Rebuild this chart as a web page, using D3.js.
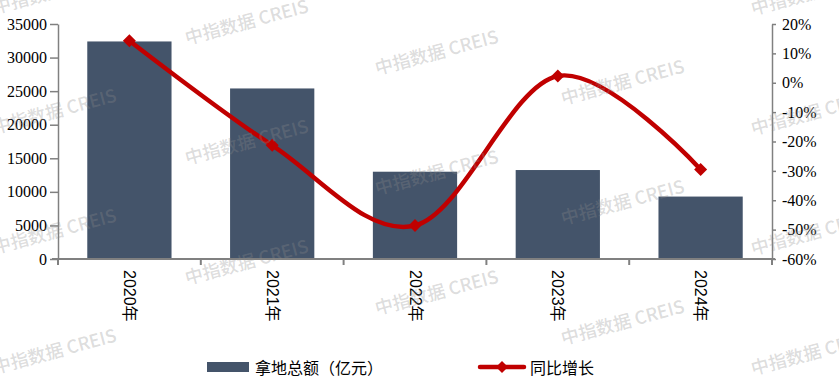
<!DOCTYPE html>
<html><head><meta charset="utf-8">
<script src="https://cdn.jsdelivr.net/npm/d3@7"></script>
<style>html,body{margin:0;padding:0;background:#fff;}svg{display:block;}
.num text{font-family:'Liberation Serif','Times New Roman',serif !important;font-size:16px;fill:#000;}</style>
</head><body>
<svg id="chart" width="839" height="383"></svg>
<script>
const categories = ["2020年","2021年","2022年","2023年","2024年"];
const amountValues = [32400, 25400, 13000, 13250, 9300];
const growthValues = [0.143, -0.213, -0.486, 0.023, -0.295];
const leftTicks = [0,5000,10000,15000,20000,25000,30000,35000];
const rightTicks = [-0.6,-0.5,-0.4,-0.3,-0.2,-0.1,0,0.1,0.2];
const legendLabels = ["拿地总额（亿元）","同比增长"];
const watermarkText = "中指数据 CREIS";

const svg = d3.select("#chart");
const L = 58, R = 772, T = 24, B = 259;
const axisColor = "#808080";
const barColor = "#44546A";
const lineColor = "#C00000";

const x = d3.scaleBand().domain(categories).range([L, R]).padding(0);
const xb = d3.scaleBand().domain(categories).range([L, R]).paddingInner(0.41).paddingOuter(0.205);
const yL = d3.scaleLinear().domain([0, 35000]).range([B, T]);
const yR = d3.scaleLinear().domain([-0.6, 0.2]).range([B, T]);

// bars
svg.append("g").selectAll("rect").data(categories).join("rect")
  .attr("x", d => xb(d)).attr("width", xb.bandwidth())
  .attr("y", (d,i) => yL(amountValues[i])).attr("height", (d,i) => B - yL(amountValues[i]))
  .attr("fill", barColor);

// left axis
const gL = svg.append("g").attr("class","num").attr("transform", `translate(${L},0)`)
  .call(d3.axisLeft(yL).tickValues(leftTicks).tickSize(8).tickPadding(3).tickSizeOuter(0).tickFormat(d3.format("d")));
gL.attr("font-family", "'Liberation Serif', serif").attr("font-size", 16);

// right axis
const pct = d => Math.round(d*100) + "%";
const gR = svg.append("g").attr("class","num").attr("transform", `translate(${R},0)`)
  .call(d3.axisRight(yR).tickValues(rightTicks).tickSize(4).tickPadding(6).tickSizeOuter(0).tickFormat(pct));
gR.attr("font-family", "'Liberation Serif', serif").attr("font-size", 16);

[gL, gR].forEach(g => { g.select(".domain").attr("stroke", axisColor).attr("stroke-width", 1.5);
  g.selectAll(".tick line").attr("stroke", axisColor).attr("stroke-width", 1.5); });

// x axis
const gX = svg.append("g");
gX.append("line").attr("x1", L - 6).attr("x2", R + 3).attr("y1", B).attr("y2", B)
  .attr("stroke", axisColor).attr("stroke-width", 2);
gX.selectAll("line.tk").data(categories.concat(["end"])).join("line").attr("class","tk")
  .attr("x1", (d,i) => i < categories.length ? x(d) : R)
  .attr("x2", (d,i) => i < categories.length ? x(d) : R)
  .attr("y1", B).attr("y2", B + 6).attr("stroke", axisColor).attr("stroke-width", 2);
gX.selectAll("text").data(categories).join("text")
  .attr("transform", d => `translate(${x(d) + x.bandwidth()/2},270) rotate(90)`)
  .attr("dominant-baseline", "central")
  .attr("font-family", "'Liberation Sans','Noto Sans CJK SC',sans-serif").attr("font-size", 16)
  .attr("fill", "#000").text(d => d);

// line
const cx = d => x(d) + x.bandwidth()/2;
const line = d3.line().x((d,i) => cx(categories[i])).y(d => yR(d)).curve(d3.curveCardinal.tension(0));
svg.append("path").datum(growthValues).attr("d", line)
  .attr("fill", "none").attr("stroke", lineColor).attr("stroke-width", 4.5).attr("stroke-linejoin","round");
const diamond = s => `M0,${-s}L${s},0L0,${s}L${-s},0Z`;
svg.append("g").selectAll("path").data(growthValues).join("path")
  .attr("transform", (d,i) => `translate(${cx(categories[i])},${yR(d)})`)
  .attr("d", diamond(6.5)).attr("fill", lineColor);

// legend
const lg = svg.append("g");
lg.append("rect").attr("x", 207).attr("y", 362).attr("width", 42).attr("height", 10).attr("fill", barColor);
lg.append("text").attr("x", 255).attr("y", 367).attr("dominant-baseline","central")
  .attr("font-family","'Noto Sans CJK SC',sans-serif").attr("font-size",16).attr("fill","#000").text(legendLabels[0]);
lg.append("line").attr("x1",480).attr("x2",524).attr("y1",367).attr("y2",367)
  .attr("stroke",lineColor).attr("stroke-width",4.5).attr("stroke-linecap","round");
lg.append("path").attr("transform","translate(502,367)").attr("d", diamond(6)).attr("fill", lineColor);
lg.append("text").attr("x", 530).attr("y", 367).attr("dominant-baseline","central")
  .attr("font-family","'Noto Sans CJK SC',sans-serif").attr("font-size",16).attr("fill","#000").text(legendLabels[1]);

// watermarks
const wmCols = [-5, 187, 377, 563, 753];
const wmRows = [-1, 0, 1, 2, 3];
const wm = [];
wmCols.forEach(c => wmRows.forEach(k => wm.push([c, 14 + 0.16*(c+5) + 120*k])));
svg.append("g").selectAll("text").data(wm.filter(d => d[1] > -10 && d[1] < 400)).join("text")
  .attr("transform", d => `translate(${d[0]},${d[1]}) rotate(-15)`)
  .attr("font-family","'Noto Sans CJK SC',sans-serif").attr("font-weight",500).attr("font-size",18)
  .attr("fill","rgba(140,140,140,0.3)").text(watermarkText);
</script>
</body></html>
